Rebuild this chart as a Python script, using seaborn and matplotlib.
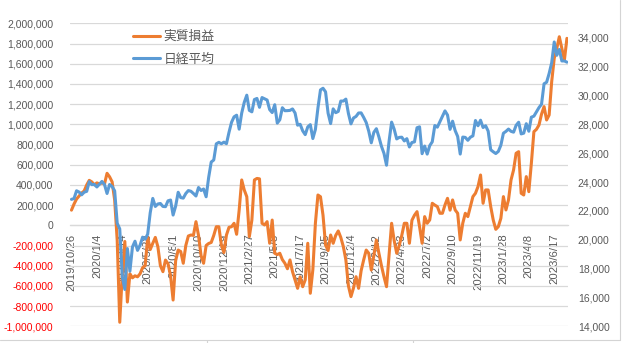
import numpy as np
import pandas as pd
import matplotlib
matplotlib.use("Agg")
import matplotlib.pyplot as plt
from matplotlib.lines import Line2D
import seaborn as sns

# ---- data -------------------------------------------------------------
# weekly observations, one per Saturday
start_date = "2019-10-26"
n_weeks = 196

# 実質損益 (thousand yen)
profit_k = [
    150, 210, 260, 290, 320, 340, 400, 445, 430, 400,
    420, 410, 420, 410, 515, 480, 430, 250, -150, -960,
    -480, -160, -760, -480, -520, -500, -510, -480, -420, -400,
    -120, -240, -178, -120, -212, -400, -459, -344, -380, -500,
    -740, -350, -245, -260, -376, -200, -106, -96, -100, 36,
    -100, -300, -376, -200, -180, -170, -100, -14, -14, -195,
    -270, -96, -20, -14, 20, -89, 150, 449, 350, 283,
    -113, 52, 449, 464, 460, 20, 3, 36, -178, 52,
    -277, -290, -277, -340, -376, -430, -343, -459, -540, -624,
    -510, -608, -540, -178, -673, -440, 20, 300, 283, 100,
    -195, -250, -96, -178, -100, -56, -120, -211, -343, -600,
    -706, -620, -509, -624, -450, -343, -245, -277, -443, -300,
    -146, -277, -400, -510, -608, -300, 20, -150, -277, -200,
    -100, 20, 20, -178, 50, 100, 135, -14, -178, 86,
    20, 53, 218, 200, 185, 119, 119, 201, 267, 150,
    251, 152, 119, -145, 20, 119, 86, 185, 284, 317,
    383, 498, 218, 350, 350, 185, 52, -40, -13, 69,
    284, 152, 251, 449, 548, 713, 729, 317, 300, 482,
    333, 614, 927, 950, 993, 1100, 1175, 1043, 1092, 1422,
    1653, 1750, 1867, 1750, 1636, 1851,
]

# 日経平均 (weekly close)
nikkei = [
    22799, 22851, 23392, 23303, 23113, 23294, 23354, 24023, 23816, 23837,
    23657, 23850, 24041, 23827, 23205, 23828, 23688, 23387, 21143, 20750,
    17431, 16553, 19389, 17820, 19498, 19897, 19262, 19619, 20179, 20037,
    20388, 21878, 22863, 22305, 22478, 22512, 22306, 22291, 22696, 22751,
    21710, 22330, 23289, 22920, 22883, 23205, 23406, 23360, 23205, 23030,
    23620, 23411, 23517, 22977, 24325, 25385, 25527, 26645, 26751, 26652,
    26763, 26656, 27444, 28139, 28519, 28631, 27663, 28779, 29520, 30018,
    28966, 28864, 29717, 29792, 29176, 29854, 29768, 29683, 29020, 28813,
    29357, 28084, 28317, 29149, 28942, 28948, 28964, 29066, 28783, 27940,
    28003, 27548, 27284, 27820, 27977, 27013, 27641, 29128, 30382, 30500,
    30249, 28771, 28049, 29069, 28805, 28893, 29612, 29610, 29746, 28752,
    28030, 28437, 28546, 28783, 28792, 28479, 28124, 27522, 26717, 27440,
    27696, 27122, 26477, 25985, 25163, 26827, 28150, 27666, 26986, 27093,
    27105, 26848, 27004, 26428, 26739, 26782, 27762, 27824, 25963, 26491,
    25936, 26517, 26788, 27915, 27802, 28176, 28547, 28930, 28641, 27651,
    28215, 27568, 27154, 25937, 27116, 27091, 26891, 27105, 27199, 28263,
    27899, 28283, 27778, 27901, 27527, 26235, 26095, 25974, 26120, 26553,
    27383, 27509, 27671, 27513, 27454, 27927, 28144, 27334, 27385, 28041,
    27519, 28493, 28564, 28856, 29158, 29388, 30808, 30916, 31524, 32265,
    33706, 32782, 33189, 32389, 32391, 32305,
]

series_names = ["実質損益", "日経平均"]
label_every = 10

left_ticks = list(range(-1_000_000, 2_000_001, 200_000))
right_ticks = list(range(14_000, 34_001, 2_000))

# ---- frame ------------------------------------------------------------
dates = pd.date_range(start_date, periods=n_weeks, freq="7D")
df = pd.DataFrame({
    "pos": np.arange(n_weeks),
    "date": dates,
    series_names[0]: np.array(profit_k) * 1000,
    series_names[1]: nikkei,
})

# ---- style ------------------------------------------------------------
sns.set_theme(style="white")
plt.rcParams["font.family"] = ["Liberation Sans", "Noto Sans CJK JP", "DejaVu Sans"]
TXT = "#595959"
GRID = "#D9D9D9"
ORANGE = "#ED7D31"
BLUE = "#5B9BD5"

W, H = 622, 343
fig = plt.figure(figsize=(W / 100, H / 100), dpi=100)
x0, x1 = 70.2, 568.2
y_top, y_bot = 23.3, 326.3
ax = fig.add_axes([x0 / W, 1 - y_bot / H, (x1 - x0) / W, (y_bot - y_top) / H])
ax2 = ax.twinx()

sns.lineplot(data=df, x="pos", y=series_names[0], ax=ax, color=ORANGE,
             linewidth=2.2, legend=False, zorder=3)
sns.lineplot(data=df, x="pos", y=series_names[1], ax=ax2, color=BLUE,
             linewidth=2.2, legend=False, zorder=3)

ax.set_xlim(-0.5, n_weeks - 0.5)
ax.set_ylim(-1_000_000, 2_000_000)
ax2.set_ylim(14_000, 35_000)

# primary axis: gridlines + red negatives
ax.set_yticks(left_ticks)
ax.set_yticklabels([f"{v:,}" for v in left_ticks])
for v, lab in zip(left_ticks, ax.get_yticklabels()):
    lab.set_color("#FF0000" if v < 0 else TXT)
ax.yaxis.grid(True, color=GRID, linewidth=0.9)
ax.set_axisbelow(True)
ax.tick_params(axis="y", length=0, pad=12, labelsize=7.5)

# secondary axis labels
ax2.set_yticks(right_ticks)
ax2.set_yticklabels([f"{v:,}" for v in right_ticks])
ax2.tick_params(axis="y", length=0, pad=7, labelsize=7.5, labelcolor=TXT)
ax2.grid(False)

# category axis crossing at zero
xt = list(range(0, n_weeks, label_every))
ax.set_xticks(xt)
ax.set_xticklabels([f"{d.year}/{d.month}/{d.day}" for d in dates[xt]])
ax.tick_params(axis="x", length=3, width=0.8, color=GRID, pad=3,
               labelsize=8.1, labelcolor=TXT, direction="out", labelrotation=90)
for lab in ax.get_xticklabels():
    lab.set_rotation(90)
    lab.set_va("top")
    lab.set_ha("center")
ax.spines["bottom"].set_position(("data", 0))
ax.spines["bottom"].set_color(GRID)
ax.spines["bottom"].set_linewidth(0.9)
for a in (ax, ax2):
    for s in ("left", "right", "top"):
        a.spines[s].set_visible(False)
ax2.spines["bottom"].set_visible(False)
ax.set_xlabel("")
ax.set_ylabel("")
ax2.set_ylabel("")

# legend
handles = [Line2D([], [], color=ORANGE, lw=2.2), Line2D([], [], color=BLUE, lw=2.2)]
leg = fig.legend(handles, series_names, loc="upper left",
                 bbox_to_anchor=(133 / W, 1 - 30 / H), bbox_transform=fig.transFigure,
                 frameon=False, fontsize=9.2, handlelength=2.1, handletextpad=0.3,
                 labelspacing=0.75, borderpad=0, borderaxespad=0)
for t in leg.get_texts():
    t.set_color(TXT)
    t.set_family(["Noto Sans CJK JP", "DejaVu Sans"])

# sheet cell borders around the chart object
cell = "#D4D4D4"
fig.add_artist(Line2D([0, 620 / W], [1 - 340 / H] * 2, color=cell, lw=0.8,
                      transform=fig.transFigure))
fig.add_artist(Line2D([620 / W] * 2, [1 - 340 / H, 1], color=cell, lw=0.8,
                      transform=fig.transFigure))
for xv in (207, 413):
    fig.add_artist(Line2D([xv / W] * 2, [0, 1 - 340 / H], color=cell, lw=0.8,
                          transform=fig.transFigure))

fig.savefig("out.png", dpi=100)
